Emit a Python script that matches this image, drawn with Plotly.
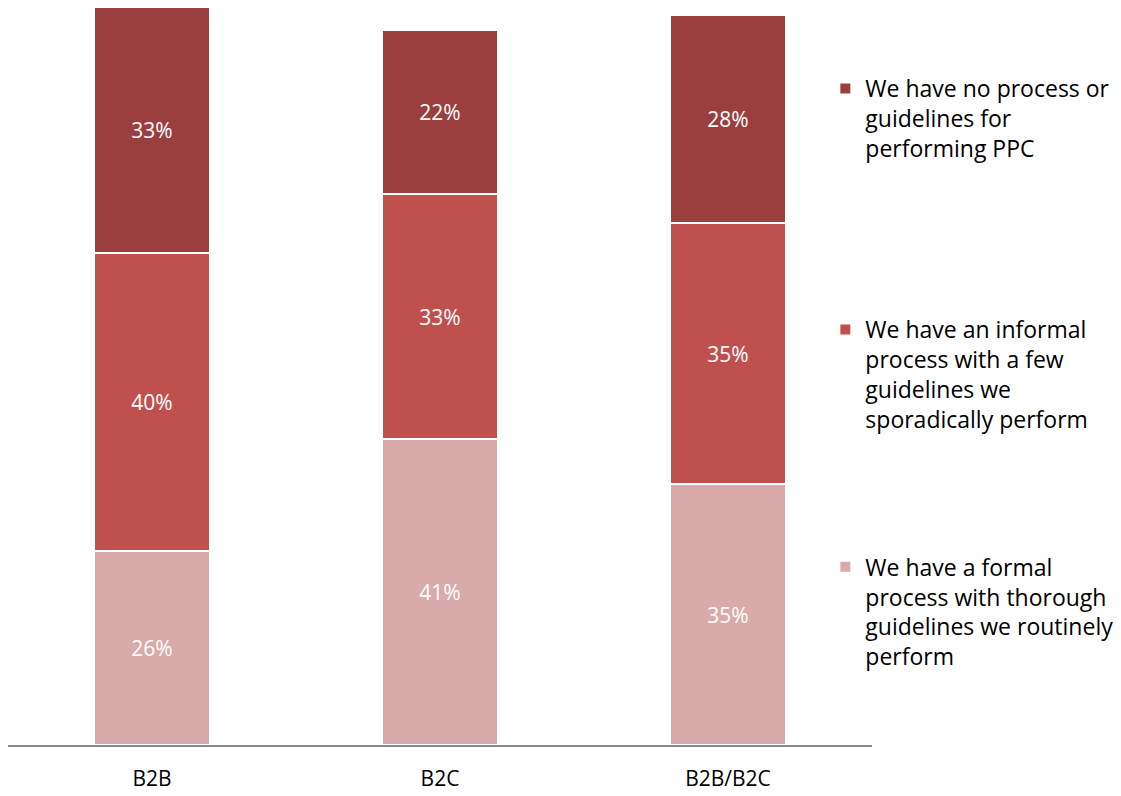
import plotly.graph_objects as go

categories = ["B2B", "B2C", "B2B/B2C"]
formal = [26, 41, 35]
informal = [40, 33, 35]
no_process = [33, 22, 28]

series_names = [
    "We have a formal<br>process with thorough<br>guidelines we routinely<br>perform",
    "We have an informal<br>process with a few<br>guidelines we<br>sporadically perform",
    "We have no process or<br>guidelines for<br>performing PPC",
]
series_values = [formal, informal, no_process]
colors = ["#D9AAAA", "#C0504D", "#9B3E3E"]
legend_ids = ["legend3", "legend2", "legend"]

FONT = "Open Sans"

fig = go.Figure()
for name, vals, col, lg in zip(series_names, series_values, colors, legend_ids):
    fig.add_trace(go.Bar(
        x=categories, y=vals, name=name,
        marker=dict(color=col, line=dict(color="white", width=2)),
        text=[f"{v}%" for v in vals],
        textposition="inside", insidetextanchor="middle",
        textfont=dict(color="white", size=21, family=FONT),
        width=0.4, legend=lg,
        hoverinfo="skip",
    ))

leg_common = dict(
    xanchor="left", yanchor="top", valign="top",
    font=dict(size=23, color="#000000", family=FONT),
    bgcolor="rgba(0,0,0,0)", itemwidth=30,
)
fig.update_layout(
    barmode="stack",
    width=1113, height=788,
    margin=dict(l=0, r=249, t=0, b=51),
    paper_bgcolor="white", plot_bgcolor="white",
    font=dict(family=FONT),
    xaxis=dict(
        showline=True, linecolor="#888888", linewidth=1.5,
        ticks="", tickfont=dict(size=21, color="#000000", family=FONT),
        ticklabelstandoff=14,
        showgrid=False,
    ),
    yaxis=dict(range=[0, 98.9], visible=False, showgrid=False),
    legend=dict(x=0.946, y=0.92, **leg_common),
    legend2=dict(x=0.946, y=0.593, **leg_common),
    legend3=dict(x=0.946, y=0.271, **leg_common),
    showlegend=True,
)

fig.write_html("out.html")
